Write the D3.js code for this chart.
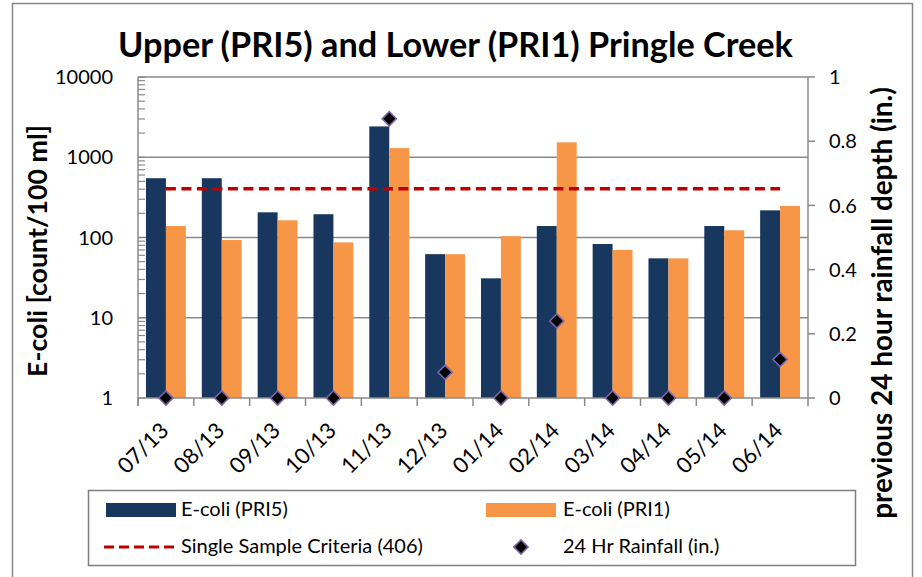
<!DOCTYPE html>
<html>
<head>
<meta charset="utf-8">
<script src="https://cdn.jsdelivr.net/npm/d3@7"></script>
<style>
  body { margin: 0; background: #fff; }
  text { font-family: Lato, "Open Sans", sans-serif; fill: #000; }
</style>
</head>
<body>
<div id="chart"></div>
<script>
// monthly samples
const months = ["07/13", "08/13", "09/13", "10/13", "11/13", "12/13", "01/14", "02/14", "03/14", "04/14", "05/14", "06/14"];
const ecoliPRI5 = [548, 548, 206, 195, 2420, 62, 31, 139, 83, 55, 139, 218];
const ecoliPRI1 = [139, 93, 164, 87, 1300, 62, 104, 1535, 70, 55, 123, 247];
const rainfall = [0, 0, 0, 0, 0.87, 0.08, 0, 0.24, 0, 0, 0, 0.12];
const criteria = 406;
const leftTicks = [1, 10, 100, 1000, 10000];
const rightTicks = [0, 0.2, 0.4, 0.6, 0.8, 1];

const W = 922, H = 577;
const plot = { left: 138, right: 808, top: 77, bottom: 398 };
const navy = "#17375E", orange = "#F79646", red = "#C00000", grid = "#8a8a8a";

const svg = d3.select("#chart").append("svg")
    .attr("width", W)
    .attr("height", H);

// outer chart border (bottom edge runs off the picture)
svg.append("rect")
    .attr("x", 12.5).attr("y", 3.5)
    .attr("width", 900).attr("height", 620)
    .attr("fill", "none")
    .attr("stroke", "#868686")
    .attr("stroke-width", 1.5);

// fit a text to a given width by scaling its font size
function fit(sel, w) {
    const len = sel.node().getComputedTextLength();
    const fs = parseFloat(sel.style("font-size"));
    sel.style("font-size", (fs * w / len) + "px");
}

const x = d3.scaleBand()
    .domain(months)
    .range([plot.left, plot.right]);

const xs = d3.scaleBand()
    .domain(["PRI5", "PRI1"])
    .range([0, x.bandwidth()])
    .paddingOuter(0.4);

const y = d3.scaleLog()
    .domain([1, 10000])
    .range([plot.bottom, plot.top]);

const yr = d3.scaleLinear()
    .domain([0, 1])
    .range([plot.bottom, plot.top]);

// horizontal gridlines
svg.append("g")
    .selectAll("line")
    .data(leftTicks.slice(1))
    .enter().append("line")
    .attr("x1", plot.left).attr("x2", plot.right)
    .attr("y1", d => y(d)).attr("y2", d => y(d))
    .attr("stroke", grid).attr("stroke-width", 1.3);

// minor ticks on the log axis (drawn inside)
const minor = [];
for (let d = 0; d < 4; d++) for (let k = 2; k <= 9; k++) minor.push(k * Math.pow(10, d));
svg.append("g")
    .selectAll("line")
    .data(minor.concat(leftTicks))
    .enter().append("line")
    .attr("x1", plot.left).attr("x2", plot.left + 7)
    .attr("y1", d => y(d)).attr("y2", d => y(d))
    .attr("stroke", grid).attr("stroke-width", 1.2);

// bars
const groups = svg.append("g")
    .selectAll("g")
    .data(months)
    .enter().append("g")
    .attr("transform", d => "translate(" + x(d) + ",0)");

groups.append("rect")
    .attr("x", xs("PRI5"))
    .attr("width", xs.bandwidth())
    .attr("y", (d, i) => y(ecoliPRI5[i]))
    .attr("height", (d, i) => plot.bottom - y(ecoliPRI5[i]))
    .attr("fill", navy);

groups.append("rect")
    .attr("x", xs("PRI1"))
    .attr("width", xs.bandwidth())
    .attr("y", (d, i) => y(ecoliPRI1[i]))
    .attr("height", (d, i) => plot.bottom - y(ecoliPRI1[i]))
    .attr("fill", orange);

// axes lines
svg.append("line")
    .attr("x1", plot.left).attr("x2", plot.left)
    .attr("y1", plot.top).attr("y2", plot.bottom + 8)
    .attr("stroke", grid).attr("stroke-width", 1.5);
svg.append("line")
    .attr("x1", plot.right).attr("x2", plot.right)
    .attr("y1", plot.top).attr("y2", plot.bottom + 8)
    .attr("stroke", grid).attr("stroke-width", 1.5);
svg.append("line")
    .attr("x1", plot.left).attr("x2", plot.right)
    .attr("y1", plot.bottom).attr("y2", plot.bottom)
    .attr("stroke", grid).attr("stroke-width", 1.5);

// category boundary ticks
svg.append("g")
    .selectAll("line")
    .data(months)
    .enter().append("line")
    .attr("x1", d => x(d)).attr("x2", d => x(d))
    .attr("y1", plot.bottom).attr("y2", plot.bottom + 8)
    .attr("stroke", grid).attr("stroke-width", 1.5);

// right axis ticks (outside)
svg.append("g")
    .selectAll("line")
    .data(rightTicks)
    .enter().append("line")
    .attr("x1", plot.right).attr("x2", plot.right + 7)
    .attr("y1", d => yr(d)).attr("y2", d => yr(d))
    .attr("stroke", grid).attr("stroke-width", 1.5);

// criteria line
svg.append("line")
    .attr("x1", x(months[0]) + x.bandwidth() / 2)
    .attr("x2", x(months[months.length - 1]) + x.bandwidth() / 2)
    .attr("y1", y(criteria)).attr("y2", y(criteria))
    .attr("stroke", red)
    .attr("stroke-width", 3.5)
    .attr("stroke-dasharray", "10,5.5");

// rainfall diamonds
const diamond = d3.symbol().type(d3.symbolSquare).size(100);
svg.append("g")
    .selectAll("path")
    .data(months)
    .enter().append("path")
    .attr("d", diamond)
    .attr("transform", (d, i) => "translate(" + (x(d) + x.bandwidth() / 2) + "," + yr(rainfall[i]) + ") rotate(45)")
    .attr("fill", "#000")
    .attr("stroke", "#7F63A8")
    .attr("stroke-width", 1.6);

// left tick labels
svg.append("g")
    .selectAll("text")
    .data(leftTicks)
    .enter().append("text")
    .attr("x", 113)
    .attr("y", d => y(d))
    .attr("dy", "0.36em")
    .attr("text-anchor", "end")
    .style("font-size", "20px")
    .text(d => d);

// right tick labels
svg.append("g")
    .selectAll("text")
    .data(rightTicks)
    .enter().append("text")
    .attr("x", 829)
    .attr("y", d => yr(d))
    .attr("dy", "0.36em")
    .style("font-size", "20px")
    .text(d => d);

// month labels
svg.append("g")
    .selectAll("text")
    .data(months)
    .enter().append("text")
    .attr("transform", d => "translate(" + (x(d) + x.bandwidth() / 2 + 4) + ",432) rotate(-45)")
    .attr("text-anchor", "end")
    .style("font-size", "22px")
    .text(d => d);

// title
const title = svg.append("text")
    .attr("x", 455.5)
    .attr("y", 57)
    .attr("text-anchor", "middle")
    .style("font-size", "34px")
    .style("font-weight", "bold")
    .text("Upper (PRI5) and Lower (PRI1) Pringle Creek");
fit(title, 675);

// axis titles
const yTitle = svg.append("text")
    .attr("transform", "translate(47,251) rotate(-90)")
    .attr("text-anchor", "middle")
    .style("font-size", "22px")
    .style("font-weight", "bold")
    .text("E-coli [count/100 ml]");
fit(yTitle, 252);

const yrTitle = svg.append("text")
    .attr("transform", "translate(892,303) rotate(-90)")
    .attr("text-anchor", "middle")
    .style("font-size", "19px")
    .style("font-weight", "bold")
    .text("previous 24 hour rainfall depth (in.)");
fit(yrTitle, 432);

// legend
const legend = svg.append("g");
legend.append("rect")
    .attr("x", 88.5).attr("y", 490.5)
    .attr("width", 767).attr("height", 75)
    .attr("fill", "#fff")
    .attr("stroke", "#7f7f7f")
    .attr("stroke-width", 1.5);

legend.append("rect")
    .attr("x", 106).attr("y", 503)
    .attr("width", 70).attr("height", 14)
    .attr("fill", navy);
legend.append("rect")
    .attr("x", 486).attr("y", 503)
    .attr("width", 70).attr("height", 14)
    .attr("fill", orange);
legend.append("line")
    .attr("x1", 104).attr("x2", 176)
    .attr("y1", 547).attr("y2", 547)
    .attr("stroke", red)
    .attr("stroke-width", 3)
    .attr("stroke-dasharray", "10,5");
legend.append("path")
    .attr("d", diamond)
    .attr("transform", "translate(521,547) rotate(45)")
    .attr("fill", "#000")
    .attr("stroke", "#7F63A8")
    .attr("stroke-width", 1.6);

const legendLabels = [
    { label: "E-coli (PRI5)", x: 181, y: 516 },
    { label: "E-coli (PRI1)", x: 563, y: 516 },
    { label: "Single Sample Criteria (406)", x: 181, y: 553 },
    { label: "24 Hr Rainfall (in.)", x: 563, y: 553 }
];
legend.selectAll("text.lg")
    .data(legendLabels)
    .enter().append("text")
    .attr("class", "lg")
    .attr("x", d => d.x)
    .attr("y", d => d.y)
    .style("font-size", "20px")
    .text(d => d.label);
</script>
</body>
</html>
